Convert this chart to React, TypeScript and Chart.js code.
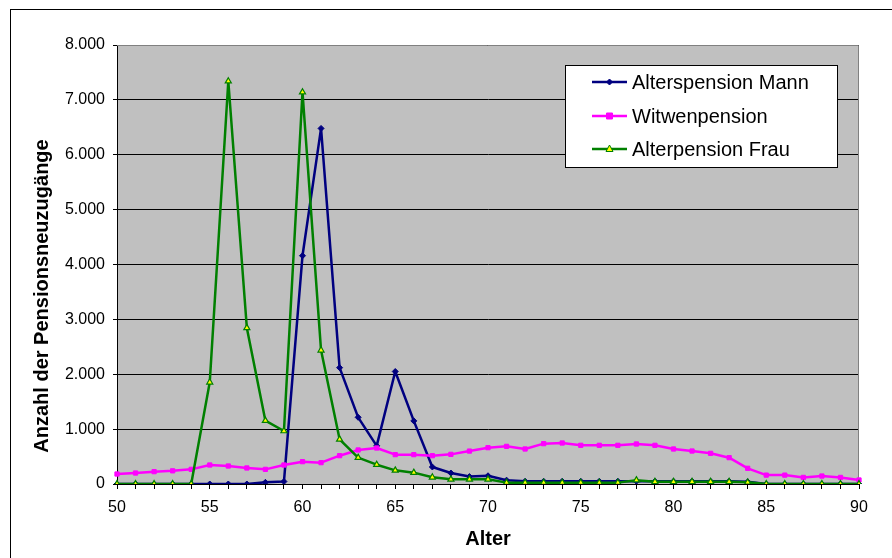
import { useEffect, useRef } from 'react';
import { Chart, registerables } from 'chart.js';

Chart.register(...registerables);

const ages = [
  '50', '51', '52', '53', '54', '55', '56', '57', '58', '59',
  '60', '61', '62', '63', '64', '65', '66', '67', '68', '69',
  '70', '71', '72', '73', '74', '75', '76', '77', '78', '79',
  '80', '81', '82', '83', '84', '85', '86', '87', '88', '89', '90',
];
const xTickLabels = ['50', '55', '60', '65', '70', '75', '80', '85', '90'];
const yTickValues = [0, 1000, 2000, 3000, 4000, 5000, 6000, 7000, 8000];

const seriesNames = ['Alterspension Mann', 'Witwenpension', 'Alterpension Frau'];

const alterspensionMann = [
  0, 0, 0, 0, 0, 0, 0, 0, 30, 45,
  4160, 6480, 2120, 1215, 695, 2050, 1150, 310, 200, 135,
  150, 70, 50, 50, 50, 50, 50, 50, 50, 50,
  50, 50, 50, 50, 40, 0, 0, 0, 0, 0, 0,
];
const witwenpension = [
  182, 200, 225, 240, 267, 346, 328, 292, 267, 346,
  407, 389, 516, 620, 656, 535, 535, 516, 540, 600,
  662, 686, 638, 735, 747, 705, 705, 705, 729, 705,
  638, 601, 559, 480, 286, 162, 162, 120, 145, 120, 73,
];
const alterpensionFrau = [
  0, 0, 0, 0, 0, 1853, 7340, 2845, 1154, 966,
  7140, 2436, 814, 480, 352, 249, 207, 122, 85, 85,
  85, 25, 25, 25, 25, 25, 25, 25, 70, 40,
  40, 40, 40, 40, 30, 0, 0, 0, 0, 0, 0,
];

const FONT = '"Liberation Sans", Arial, Helvetica, sans-serif';

const fmt = (v: number) => String(v).replace(/\B(?=(\d{3})+(?!\d))/g, '.');

const decorPlugin = {
  id: 'decor',
  beforeDraw(chart: any) {
    const { ctx, chartArea: a } = chart;
    ctx.save();
    ctx.fillStyle = '#ffffff';
    ctx.fillRect(0, 0, chart.width, chart.height);
    ctx.fillStyle = '#C0C0C0';
    ctx.fillRect(a.left, a.top, a.right - a.left, a.bottom - a.top);
    ctx.strokeStyle = '#000000';
    ctx.lineWidth = 1;
    ctx.strokeRect(10.5, 9.5, 1200, 1200);
    ctx.restore();
  },
  beforeDatasetsDraw(chart: any) {
    const { ctx, chartArea: a } = chart;
    ctx.save();
    ctx.strokeStyle = '#808080';
    ctx.lineWidth = 1;
    ctx.beginPath();
    ctx.moveTo(a.left, Math.round(a.top) + 0.5);
    ctx.lineTo(Math.round(a.right) - 0.5, Math.round(a.top) + 0.5);
    ctx.lineTo(Math.round(a.right) - 0.5, a.bottom);
    ctx.stroke();
    ctx.restore();
  },
  afterDraw(chart: any) {
    const { ctx } = chart;
    ctx.save();
    // y axis title
    ctx.translate(42, 296);
    ctx.rotate(-Math.PI / 2);
    ctx.font = `bold 20px ${FONT}`;
    ctx.fillStyle = '#000';
    ctx.textAlign = 'center';
    ctx.textBaseline = 'middle';
    ctx.fillText('Anzahl der Pensionsneuzugänge', 0, 0);
    ctx.restore();

    // legend
    ctx.save();
    const bx = 565.5, by = 65.5, bw = 272, bh = 102;
    ctx.fillStyle = '#ffffff';
    ctx.fillRect(bx, by, bw, bh);
    ctx.strokeStyle = '#000';
    ctx.lineWidth = 1;
    ctx.strokeRect(bx, by, bw, bh);
    const rows = [82, 116, 149];
    chart.data.datasets.forEach((ds: any, i: number) => {
      const y = rows[i];
      ctx.strokeStyle = ds.borderColor;
      ctx.lineWidth = 2.5;
      ctx.beginPath();
      ctx.moveTo(592, y);
      ctx.lineTo(627, y);
      ctx.stroke();
      ctx.fillStyle = ds.pointBackgroundColor;
      ctx.strokeStyle = ds.pointBorderColor;
      ctx.lineWidth = 1;
      const cx = 609.5;
      ctx.beginPath();
      if (ds.pointStyle === 'rectRot') {
        ctx.moveTo(cx, y - 3);
        ctx.lineTo(cx + 3, y);
        ctx.lineTo(cx, y + 3);
        ctx.lineTo(cx - 3, y);
        ctx.closePath();
      } else if (ds.pointStyle === 'rect') {
        ctx.rect(cx - 3, y - 3, 6, 6);
      } else {
        ctx.moveTo(cx, y - 4);
        ctx.lineTo(cx + 3.5, y + 2.5);
        ctx.lineTo(cx - 3.5, y + 2.5);
        ctx.closePath();
      }
      ctx.fill();
      ctx.stroke();
      ctx.fillStyle = '#000';
      ctx.font = `20px ${FONT}`;
      ctx.textAlign = 'left';
      ctx.textBaseline = 'middle';
      ctx.fillText(ds.label, 632, y + 1);
    });
    ctx.restore();
  },
};

export default function App() {
  const ref = useRef<HTMLCanvasElement | null>(null);

  useEffect(() => {
    if (!ref.current) return;
    const chart = new Chart(ref.current, {
      type: 'line',
      data: {
        labels: ages,
        datasets: [
          {
            label: seriesNames[0],
            data: alterspensionMann,
            borderColor: '#000080',
            backgroundColor: '#000080',
            pointBackgroundColor: '#000080',
            pointBorderColor: '#000080',
            pointStyle: 'rectRot',
            pointRadius: 3,
            pointBorderWidth: 1,
            borderWidth: 2.5,
            borderJoinStyle: 'round',
            tension: 0,
            order: 3,
          },
          {
            label: seriesNames[1],
            data: witwenpension,
            borderColor: '#FF00FF',
            backgroundColor: '#FF00FF',
            pointBackgroundColor: '#FF00FF',
            pointBorderColor: '#FF00FF',
            pointStyle: 'rect',
            pointRadius: 3,
            pointBorderWidth: 1,
            borderWidth: 2.5,
            borderJoinStyle: 'round',
            tension: 0,
            order: 2,
          },
          {
            label: seriesNames[2],
            data: alterpensionFrau,
            borderColor: '#008000',
            backgroundColor: '#FFFF00',
            pointBackgroundColor: '#FFFF00',
            pointBorderColor: '#008000',
            pointStyle: 'triangle',
            pointRadius: 3.5,
            pointBorderWidth: 1.2,
            borderWidth: 2.5,
            borderJoinStyle: 'round',
            tension: 0,
            order: 1,
          },
        ],
      },
      options: {
        animation: false,
        responsive: false,
        maintainAspectRatio: false,
        devicePixelRatio: 1,
        layout: { padding: { left: 0, top: 45, right: 33, bottom: 0 } },
        plugins: {
          legend: { display: false },
          tooltip: { enabled: false },
          title: { display: false },
        },
        scales: {
          x: {
            type: 'category',
            offset: false,
            afterFit: (s: any) => { s.height = 74; },
            grid: {
              display: true,
              drawOnChartArea: false,
              drawTicks: true,
              tickLength: 5,
              color: '#000',
              lineWidth: 1,
            },
            border: { display: true, color: '#000', width: 1 },
            ticks: {
              autoSkip: false,
              maxRotation: 0,
              minRotation: 0,
              padding: 9,
              color: '#000',
              font: { family: FONT, size: 16 },
              callback: (_v: any, i: number) => (xTickLabels.includes(ages[i]) ? ages[i] : ''),
            },
            title: {
              display: true,
              text: 'Alter',
              color: '#000',
              font: { family: FONT, size: 20, weight: 'bold' },
              padding: { top: 0, bottom: 7 },
            },
          },
          y: {
            min: yTickValues[0],
            max: yTickValues[yTickValues.length - 1],
            afterFit: (s: any) => { s.width = 117; },
            afterBuildTicks: (s: any) => {
              s.ticks = yTickValues.map((v) => ({ value: v }));
            },
            grid: {
              display: true,
              drawOnChartArea: true,
              drawTicks: true,
              tickLength: 4,
              color: '#000',
              lineWidth: 1,
            },
            border: { display: true, color: '#000', width: 1 },
            ticks: {
              padding: 8,
              color: '#000',
              font: { family: FONT, size: 16 },
              callback: (v: any) => fmt(Number(v)),
            },
            title: { display: false },
          },
        },
      },
      plugins: [decorPlugin],
    } as any);
    return () => chart.destroy();
  }, []);

  return (
    <div style={{ position: 'absolute', left: 0, top: 0, width: 892, height: 558, background: '#fff' }}>
      <canvas ref={ref} width={892} height={558} style={{ display: 'block', width: 892, height: 558 }} />
    </div>
  );
}
